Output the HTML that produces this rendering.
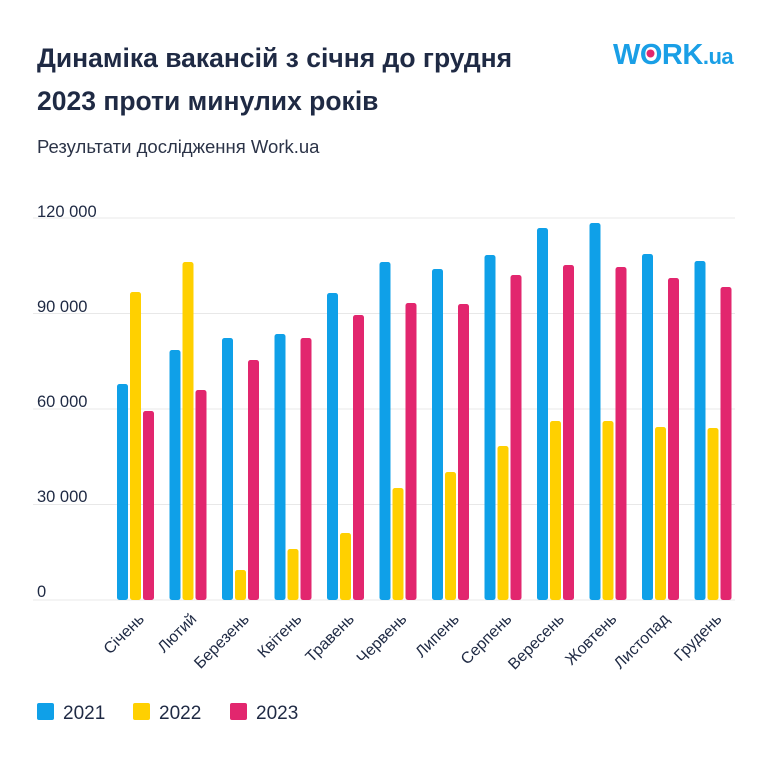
<!DOCTYPE html>
<html><head><meta charset="utf-8"><style>
body{margin:0;background:#fff;}
svg{display:block;font-family:"Liberation Sans","DejaVu Sans",sans-serif;}
</style></head><body>
<svg width="768" height="768" viewBox="0 0 768 768" xmlns="http://www.w3.org/2000/svg">
<rect width="768" height="768" fill="#fff"/>
<text x="37" y="67" font-size="26.5" font-weight="bold" fill="#1f2a44">Динаміка вакансій з січня до грудня</text>
<text x="37" y="110" font-size="26.5" font-weight="bold" fill="#1f2a44">2023 проти минулих років</text>
<text x="37" y="153" font-size="18.5" fill="#2b3347">Результати дослідження Work.ua</text>
<text x="613" y="64" font-size="29" font-weight="bold" fill="#1a9fe6" letter-spacing="-0.5">WORK<tspan font-size="22">.ua</tspan></text>
<circle cx="650.5" cy="53.5" r="4" fill="#e2266e"/>
<g stroke="#e8e8e8" stroke-width="1">
<line x1="33" y1="218" x2="735" y2="218"/><line x1="33" y1="313.5" x2="735" y2="313.5"/>
<line x1="33" y1="409" x2="735" y2="409"/><line x1="33" y1="504.5" x2="735" y2="504.5"/>
<line x1="33" y1="600" x2="735" y2="600"/></g>
<g font-size="16.5" fill="#1f2a44">
<text x="37" y="217">120 000</text><text x="37" y="312">90 000</text><text x="37" y="407">60 000</text>
<text x="37" y="502">30 000</text><text x="37" y="597">0</text></g>
<g>
<g fill="#0fa0e8">
<rect x="117" y="384" width="11" height="216" rx="2.5"/>
<rect x="169.5" y="350" width="11" height="250" rx="2.5"/>
<rect x="222" y="338" width="11" height="262" rx="2.5"/>
<rect x="274.5" y="334" width="11" height="266" rx="2.5"/>
<rect x="327" y="293" width="11" height="307" rx="2.5"/>
<rect x="379.5" y="262" width="11" height="338" rx="2.5"/>
<rect x="432" y="269" width="11" height="331" rx="2.5"/>
<rect x="484.5" y="255" width="11" height="345" rx="2.5"/>
<rect x="537" y="228" width="11" height="372" rx="2.5"/>
<rect x="589.5" y="223" width="11" height="377" rx="2.5"/>
<rect x="642" y="254" width="11" height="346" rx="2.5"/>
<rect x="694.5" y="261" width="11" height="339" rx="2.5"/>
</g>
<g fill="#ffd000">
<rect x="130" y="292" width="11" height="308" rx="2.5"/>
<rect x="182.5" y="262" width="11" height="338" rx="2.5"/>
<rect x="235" y="570" width="11" height="30" rx="2.5"/>
<rect x="287.5" y="549" width="11" height="51" rx="2.5"/>
<rect x="340" y="533" width="11" height="67" rx="2.5"/>
<rect x="392.5" y="488" width="11" height="112" rx="2.5"/>
<rect x="445" y="472" width="11" height="128" rx="2.5"/>
<rect x="497.5" y="446" width="11" height="154" rx="2.5"/>
<rect x="550" y="421" width="11" height="179" rx="2.5"/>
<rect x="602.5" y="421" width="11" height="179" rx="2.5"/>
<rect x="655" y="427" width="11" height="173" rx="2.5"/>
<rect x="707.5" y="428" width="11" height="172" rx="2.5"/>
</g>
<g fill="#e2266e">
<rect x="143" y="411" width="11" height="189" rx="2.5"/>
<rect x="195.5" y="390" width="11" height="210" rx="2.5"/>
<rect x="248" y="360" width="11" height="240" rx="2.5"/>
<rect x="300.5" y="338" width="11" height="262" rx="2.5"/>
<rect x="353" y="315" width="11" height="285" rx="2.5"/>
<rect x="405.5" y="303" width="11" height="297" rx="2.5"/>
<rect x="458" y="304" width="11" height="296" rx="2.5"/>
<rect x="510.5" y="275" width="11" height="325" rx="2.5"/>
<rect x="563" y="265" width="11" height="335" rx="2.5"/>
<rect x="615.5" y="267" width="11" height="333" rx="2.5"/>
<rect x="668" y="278" width="11" height="322" rx="2.5"/>
<rect x="720.5" y="287" width="11" height="313" rx="2.5"/>
</g>
</g>
<g font-size="16" fill="#1f2a44" text-anchor="end">
<text transform="translate(145,620) rotate(-45)">Січень</text>
<text transform="translate(197.5,620) rotate(-45)">Лютий</text>
<text transform="translate(250,620) rotate(-45)">Березень</text>
<text transform="translate(302.5,620) rotate(-45)">Квітень</text>
<text transform="translate(355,620) rotate(-45)">Травень</text>
<text transform="translate(407.5,620) rotate(-45)">Червень</text>
<text transform="translate(460,620) rotate(-45)">Липень</text>
<text transform="translate(512.5,620) rotate(-45)">Серпень</text>
<text transform="translate(565,620) rotate(-45)">Вересень</text>
<text transform="translate(617.5,620) rotate(-45)">Жовтень</text>
<text transform="translate(670,620) rotate(-45)">Листопад</text>
<text transform="translate(722.5,620) rotate(-45)">Грудень</text>
</g>
<rect x="37" y="703" width="17" height="17" rx="2" fill="#0fa0e8"/><text x="63" y="719" font-size="19" fill="#1f2a44">2021</text>
<rect x="133" y="703" width="17" height="17" rx="2" fill="#ffd000"/><text x="159" y="719" font-size="19" fill="#1f2a44">2022</text>
<rect x="230" y="703" width="17" height="17" rx="2" fill="#e2266e"/><text x="256" y="719" font-size="19" fill="#1f2a44">2023</text>
</svg>
</body></html>
